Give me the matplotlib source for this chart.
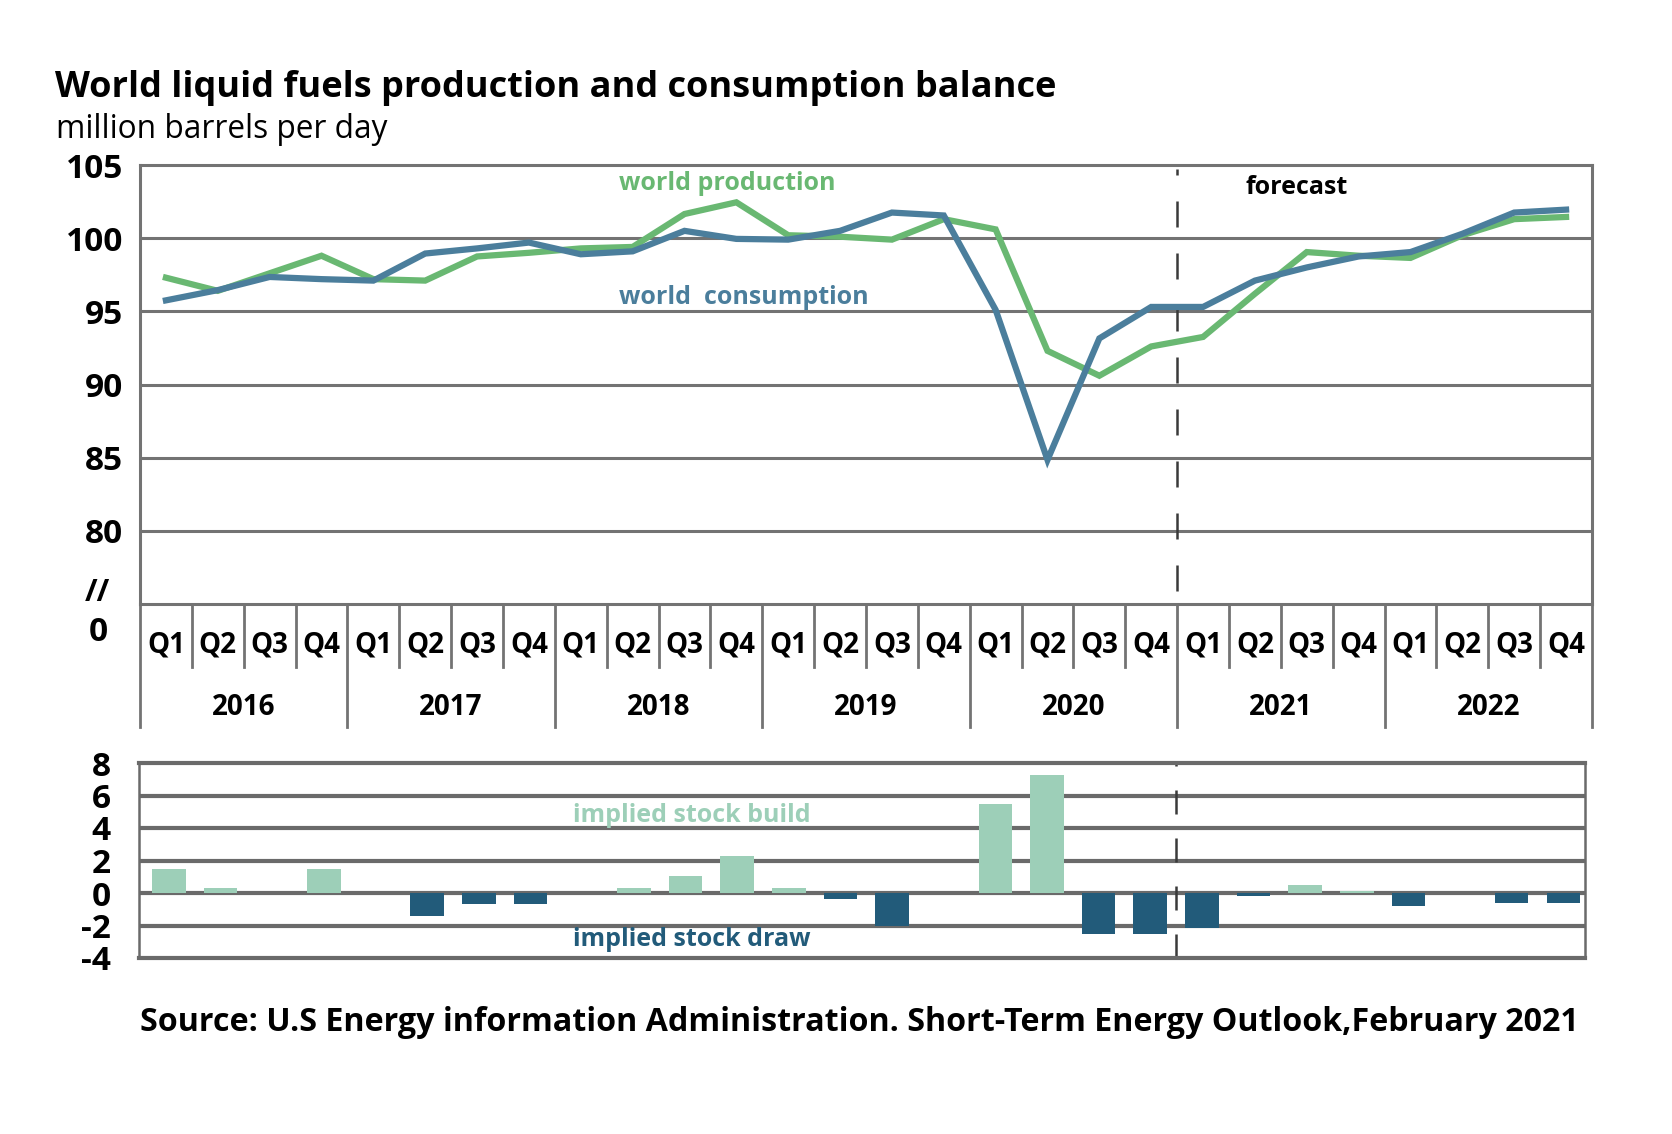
import numpy as np
import matplotlib.pyplot as plt
from matplotlib.transforms import blended_transform_factory

# quarterly values, million barrels per day
years = ["2016", "2017", "2018", "2019", "2020", "2021", "2022"]
quarters = ["Q1", "Q2", "Q3", "Q4"] * len(years)

production = [97.3, 96.4, 97.6, 98.8, 97.2, 97.1, 98.75, 99.0,
              99.3, 99.4, 101.65, 102.45, 100.2, 100.1, 99.9, 101.3,
              100.6, 92.3, 90.6, 92.6, 93.25, 96.2, 99.05, 98.8,
              98.65, 100.2, 101.3, 101.45]
consumption = [95.75, 96.45, 97.35, 97.2, 97.1, 98.95, 99.3, 99.7,
               98.9, 99.1, 100.5, 99.95, 99.9, 100.5, 101.75, 101.55,
               95.1, 84.85, 93.15, 95.3, 95.3, 97.1, 98.0, 98.75,
               99.05, 100.3, 101.75, 101.95]
stock_change = [1.48, 0.31, 0, 1.48, 0, -1.39, -0.66, -0.66,
                0, 0.31, 1.03, 2.26, 0.31, -0.37, -2.05, 0,
                5.48, 7.24, -2.52, -2.52, -2.17, -0.2, 0.51, 0.14,
                -0.8, 0, -0.6, -0.6]
forecast_start = 20  # first forecast quarter (2021 Q1)

GREEN = "#69b872"
BLUE = "#4b7e9c"
BUILD = "#9dcfb8"
DRAW = "#225b7a"
GRID = "#737373"

plt.rcParams['font.family'] = ['Open Sans', 'DejaVu Sans']

fig = plt.figure(figsize=(16.72, 11.34), dpi=100)
W, H = 1672, 1134


def box(left, top, right, bottom):
    return [left / W, 1 - bottom / H, (right - left) / W, (bottom - top) / H]


x = np.arange(len(quarters)) + 0.5

# ---- top panel: production / consumption
ax = fig.add_axes(box(140, 165, 1592, 604))
ax.set_xlim(0, len(quarters))
ax.set_ylim(75, 105)
for v in [80, 85, 90, 95, 100]:
    ax.axhline(v, color=GRID, lw=2.2, zorder=1)
ax.plot(x, production, color=GREEN, lw=4.5, zorder=3, solid_joinstyle='miter')
ax.plot(x, consumption, color=BLUE, lw=4.5, zorder=4, solid_joinstyle='miter')
ax.axvline(forecast_start, ymin=0.03, ymax=0.99, color="#3a3a3a", lw=1.8,
           dashes=(10.4, 10.4), zorder=2)

for s in ax.spines.values():
    s.set_color(GRID)
    s.set_linewidth(2.2)
ax.set_yticks([80, 85, 90, 95, 100, 105])
ax.set_yticklabels(["80", "85", "90", "95", "100", "105"])
ax.tick_params(axis='y', length=0, pad=12, labelsize=24)
for lab in ax.get_yticklabels():
    lab.set_fontweight('bold')
ax.set_xticks([])

ax.text(-0.029, 0.025, "//", transform=ax.transAxes, fontsize=22,
        fontweight='bold', ha='center', va='center')
ax.text(-0.029, -0.064, "0", transform=ax.transAxes, fontsize=24,
        fontweight='bold', ha='center', va='center')

# category labels below the top panel
tr = blended_transform_factory(ax.transData, ax.transAxes)
for i, q in enumerate(quarters):
    ax.text(x[i], -0.093, q, transform=tr, ha='center', va='center',
            fontsize=20, fontweight='bold')
    if i % 4 != 0:
        ax.plot([i, i], [0, -0.144], transform=tr, color=GRID, lw=2,
                clip_on=False)
for j, yr in enumerate(years):
    ax.text(4 * j + 2, -0.235, yr, transform=tr, ha='center', va='center',
            fontsize=20, fontweight='bold')
for j in range(len(years) + 1):
    ax.plot([4 * j, 4 * j], [0, -0.28], transform=tr, color=GRID, lw=2,
            clip_on=False)

ax.text(727 / W, 1 - 183 / H, "world production", transform=fig.transFigure,
        color=GREEN, fontsize=18, fontweight='bold', ha='center', va='center')
ax.text(744 / W, 1 - 297 / H, "world  consumption", transform=fig.transFigure,
        color=BLUE, fontsize=18, fontweight='bold', ha='center', va='center')
ax.text(1297 / W, 1 - 188 / H, "forecast", transform=fig.transFigure,
        color="black", fontsize=18, fontweight='bold', ha='center', va='center')

# ---- bottom panel: implied stock change
bx = fig.add_axes(box(138.6, 763, 1584.5, 958))
bx.set_xlim(-0.09, len(quarters) - 0.09)
bx.set_ylim(-4, 8)
for v in [-2, 0, 2, 4, 6]:
    bx.axhline(v, color="#6a6a6a", lw=3, zorder=1)
colors = [BUILD if v >= 0 else DRAW for v in stock_change]
bx.bar(x, stock_change, width=0.65, color=colors, zorder=3)
bx.axvline(forecast_start, color="#3a3a3a", lw=1.8, dashes=(9.6, 9.6), zorder=2)
for side, s in bx.spines.items():
    s.set_color("#6a6a6a")
    s.set_linewidth(3 if side in ("top", "bottom") else 1.8)
bx.set_yticks([-4, -2, 0, 2, 4, 6, 8])
bx.set_yticklabels(["-4", "-2", "0", "2", "4", "6", "8"])
bx.tick_params(axis='y', length=0, pad=20, labelsize=24)
for lab in bx.get_yticklabels():
    lab.set_fontweight('bold')
bx.set_xticks([])

fig.text(692 / W, 1 - 815 / H, "implied stock build", color=BUILD,
         fontsize=18, fontweight='bold', ha='center', va='center')
fig.text(692 / W, 1 - 940 / H, "implied stock draw", color=DRAW,
         fontsize=18, fontweight='bold', ha='center', va='center')

# ---- titles and source
fig.text(55 / W, 1 - 97 / H, "World liquid fuels production and consumption balance",
         fontsize=26, fontweight='bold', ha='left', va='baseline')
fig.text(56 / W, 1 - 138 / H, "million barrels per day",
         fontsize=22.8, ha='left', va='baseline')
fig.text(1579 / W, 1 - 1031 / H,
         "Source: U.S Energy information Administration. Short-Term Energy Outlook,February 2021",
         fontsize=23.2, fontweight='bold', ha='right', va='baseline')

fig.savefig("out.png", dpi=100, facecolor="white")
